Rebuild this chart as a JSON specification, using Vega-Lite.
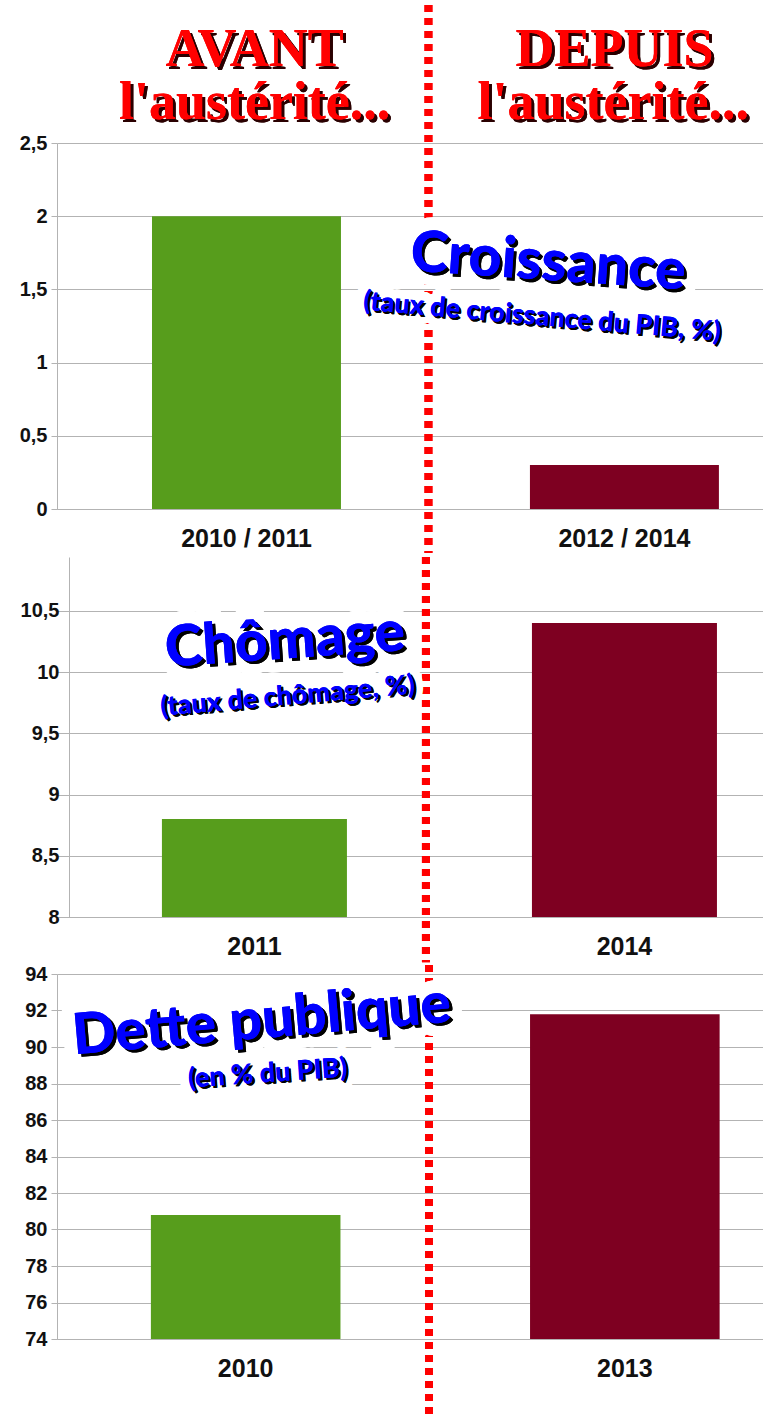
{
  "$schema": "https://vega.github.io/schema/vega-lite/v6.json",
  "padding": 0,
  "background": "white",
  "columns": 1,
  "spacing": -7,
  "config": {"view": {"stroke": null}},
  "concat": [
    {
      "width": 706,
      "height": 366,
      "data": {"values": [
        {"cat": "2010 / 2011", "v": 2, "periode": "avant"},
        {"cat": "2012 / 2014", "v": 0.3, "periode": "depuis"}
      ]},
      "layer": [
        {
          "mark": {"type": "bar"},
          "encoding": {
            "x": {"field": "cat", "type": "nominal", "sort": null,
              "scale": {"paddingInner": 0.5, "paddingOuter": 0.184, "align": 0.683},
              "axis": {"title": null, "labelAngle": 0, "ticks": false, "domainColor": "#b3b3b3", "labelFont": "Liberation Sans", "labelFontWeight": "bold", "labelFontSize": 25, "labelColor": "#111111", "labelPadding": 17}},
            "y": {"field": "v", "type": "quantitative",
              "scale": {"domain": [0, 2.5], "nice": false, "zero": false},
              "axis": {"title": null, "values": [0, 0.5, 1, 1.5, 2, 2.5], "tickCount": 6, "labelExpr": "replace(toString(datum.value), '.', ',')", "labelOverlap": false, "grid": true, "gridColor": "#b3b3b3", "domainColor": "#b3b3b3", "tickColor": "#b3b3b3", "tickSize": 6, "labelPadding": 4, "labelFont": "Liberation Sans", "labelFontWeight": "bold", "labelFontSize": 20, "labelColor": "#111111", "minExtent": 57, "maxExtent": 57}},
            "y2": {"datum": 0},
            "color": {"field": "periode", "type": "nominal", "scale": {"domain": ["avant", "depuis"], "range": ["#579d1c", "#7e0021"]}, "legend": null}
          }
        },
        {
          "mark": {"type": "rule", "color": "#ff0000", "strokeWidth": 8, "strokeDash": [7, 6]},
          "encoding": {
            "x": {"datum": "2012 / 2014", "type": "nominal", "bandPosition": -0.537},
            "y": {"datum": 3.443, "type": "quantitative"},
            "y2": {"datum": -0.3}
          }
        },
        {
          "mark": {"type": "text", "text": "AVANT", "font": "Liberation Serif", "fontWeight": "bold", "fontSize": 54, "color": "#2a0000", "dx": 3, "dy": 3, "align": "center", "baseline": "alphabetic"},
          "encoding": {"x": {"datum": "2010 / 2011", "type": "nominal", "bandPosition": 0.543}, "y": {"datum": 3.026, "type": "quantitative"}}
        },
        {
          "mark": {"type": "text", "text": "AVANT", "font": "Liberation Serif", "fontWeight": "bold", "fontSize": 54, "color": "#ff0000", "align": "center", "baseline": "alphabetic"},
          "encoding": {"x": {"datum": "2010 / 2011", "type": "nominal", "bandPosition": 0.543}, "y": {"datum": 3.026, "type": "quantitative"}}
        },
        {
          "mark": {"type": "text", "text": "l'austérité...", "font": "Liberation Serif", "fontWeight": "bold", "fontSize": 54, "color": "#2a0000", "dx": 3, "dy": 3, "align": "center", "baseline": "alphabetic"},
          "encoding": {"x": {"datum": "2010 / 2011", "type": "nominal", "bandPosition": 0.543}, "y": {"datum": 2.664, "type": "quantitative"}}
        },
        {
          "mark": {"type": "text", "text": "l'austérité...", "font": "Liberation Serif", "fontWeight": "bold", "fontSize": 54, "color": "#ff0000", "align": "center", "baseline": "alphabetic"},
          "encoding": {"x": {"datum": "2010 / 2011", "type": "nominal", "bandPosition": 0.543}, "y": {"datum": 2.664, "type": "quantitative"}}
        },
        {
          "mark": {"type": "text", "text": "DEPUIS", "font": "Liberation Serif", "fontWeight": "bold", "fontSize": 54, "color": "#2a0000", "dx": 3, "dy": 3, "align": "center", "baseline": "alphabetic"},
          "encoding": {"x": {"datum": "2012 / 2014", "type": "nominal", "bandPosition": 0.447}, "y": {"datum": 3.026, "type": "quantitative"}}
        },
        {
          "mark": {"type": "text", "text": "DEPUIS", "font": "Liberation Serif", "fontWeight": "bold", "fontSize": 54, "color": "#ff0000", "align": "center", "baseline": "alphabetic"},
          "encoding": {"x": {"datum": "2012 / 2014", "type": "nominal", "bandPosition": 0.447}, "y": {"datum": 3.026, "type": "quantitative"}}
        },
        {
          "mark": {"type": "text", "text": "l'austérité...", "font": "Liberation Serif", "fontWeight": "bold", "fontSize": 54, "color": "#2a0000", "dx": 3, "dy": 3, "align": "center", "baseline": "alphabetic"},
          "encoding": {"x": {"datum": "2012 / 2014", "type": "nominal", "bandPosition": 0.441}, "y": {"datum": 2.664, "type": "quantitative"}}
        },
        {
          "mark": {"type": "text", "text": "l'austérité...", "font": "Liberation Serif", "fontWeight": "bold", "fontSize": 54, "color": "#ff0000", "align": "center", "baseline": "alphabetic"},
          "encoding": {"x": {"datum": "2012 / 2014", "type": "nominal", "bandPosition": 0.441}, "y": {"datum": 2.664, "type": "quantitative"}}
        },
        {
          "mark": {"type": "text", "text": "Croissance", "font": "Lato", "fontWeight": 900, "fontSize": 57, "angle": 4, "align": "center", "baseline": "middle", "fill": "#ffffff", "stroke": "#ffffff", "strokeWidth": 26, "strokeJoin": "round"},
          "encoding": {"x": {"datum": "2012 / 2014", "type": "nominal", "bandPosition": 0.096}, "y": {"datum": 1.68, "type": "quantitative"}}
        },
        {
          "mark": {"type": "text", "text": "(taux de croissance du PIB, %)", "font": "Lato", "fontWeight": 900, "fontSize": 27, "angle": 5, "align": "center", "baseline": "middle", "fill": "#ffffff", "stroke": "#ffffff", "strokeWidth": 18, "strokeJoin": "round"},
          "encoding": {"x": {"datum": "2012 / 2014", "type": "nominal", "bandPosition": 0.064}, "y": {"datum": 1.31, "type": "quantitative"}}
        },
        {
          "mark": {"type": "text", "text": "Croissance", "font": "Lato", "fontWeight": 900, "fontSize": 57, "angle": 4, "align": "center", "baseline": "middle", "fill": "#000000", "dx": 3, "dy": 3},
          "encoding": {"x": {"datum": "2012 / 2014", "type": "nominal", "bandPosition": 0.096}, "y": {"datum": 1.68, "type": "quantitative"}}
        },
        {
          "mark": {"type": "text", "text": "(taux de croissance du PIB, %)", "font": "Lato", "fontWeight": 900, "fontSize": 27, "angle": 5, "align": "center", "baseline": "middle", "fill": "#000000", "dx": 2, "dy": 2},
          "encoding": {"x": {"datum": "2012 / 2014", "type": "nominal", "bandPosition": 0.064}, "y": {"datum": 1.31, "type": "quantitative"}}
        },
        {
          "mark": {"type": "text", "text": "Croissance", "font": "Lato", "fontWeight": 900, "fontSize": 57, "angle": 4, "align": "center", "baseline": "middle", "fill": "#0000ff"},
          "encoding": {"x": {"datum": "2012 / 2014", "type": "nominal", "bandPosition": 0.096}, "y": {"datum": 1.68, "type": "quantitative"}}
        },
        {
          "mark": {"type": "text", "text": "(taux de croissance du PIB, %)", "font": "Lato", "fontWeight": 900, "fontSize": 27, "angle": 5, "align": "center", "baseline": "middle", "fill": "#0000ff"},
          "encoding": {"x": {"datum": "2012 / 2014", "type": "nominal", "bandPosition": 0.064}, "y": {"datum": 1.31, "type": "quantitative"}}
        }
      ]
    },
    {
      "width": 706,
      "height": 360,
      "data": {"values": [
        {"cat": "2011", "v": 8.8, "periode": "avant"},
        {"cat": "2014", "v": 10.4, "periode": "depuis"}
      ]},
      "layer": [
        {
          "mark": {"type": "bar"},
          "encoding": {
            "x": {"field": "cat", "type": "nominal", "sort": null,
              "scale": {"paddingInner": 0.5, "paddingOuter": 0.204, "align": 0.695},
              "axis": {"title": null, "labelAngle": 0, "ticks": false, "domainColor": "#b3b3b3", "labelFont": "Liberation Sans", "labelFontWeight": "bold", "labelFontSize": 25, "labelColor": "#111111", "labelPadding": 17}},
            "y": {"field": "v", "type": "quantitative",
              "scale": {"domain": [8, 10.94], "nice": false, "zero": false},
              "axis": {"title": null, "offset": -12, "values": [8, 8.5, 9, 9.5, 10, 10.5], "tickCount": 6, "labelExpr": "replace(toString(datum.value), '.', ',')", "labelOverlap": false, "grid": true, "gridColor": "#b3b3b3", "domainColor": "#b3b3b3", "tickColor": "#b3b3b3", "tickSize": 6, "labelPadding": 4, "labelFont": "Liberation Sans", "labelFontWeight": "bold", "labelFontSize": 20, "labelColor": "#111111", "minExtent": 57, "maxExtent": 57}},
            "y2": {"datum": 8},
            "color": {"field": "periode", "type": "nominal", "scale": {"domain": ["avant", "depuis"], "range": ["#579d1c", "#7e0021"]}, "legend": null}
          }
        },
        {
          "mark": {"type": "rule", "color": "#ff0000", "strokeWidth": 8, "strokeDash": [7, 6]},
          "encoding": {
            "x": {"datum": "2014", "type": "nominal", "bandPosition": -0.573},
            "y": {"datum": 10.94, "type": "quantitative"},
            "y2": {"datum": 7.63}
          }
        },
        {
          "mark": {"type": "text", "text": "Chômage", "font": "Lato", "fontWeight": 900, "fontSize": 57, "angle": -4, "align": "center", "baseline": "middle", "fill": "#ffffff", "stroke": "#ffffff", "strokeWidth": 26, "strokeJoin": "round"},
          "encoding": {"x": {"datum": "2011", "type": "nominal", "bandPosition": 0.665}, "y": {"datum": 10.25, "type": "quantitative"}}
        },
        {
          "mark": {"type": "text", "text": "(taux de chômage, %)", "font": "Lato", "fontWeight": 900, "fontSize": 27, "angle": -5, "align": "center", "baseline": "middle", "fill": "#ffffff", "stroke": "#ffffff", "strokeWidth": 18, "strokeJoin": "round"},
          "encoding": {"x": {"datum": "2011", "type": "nominal", "bandPosition": 0.68}, "y": {"datum": 9.8, "type": "quantitative"}}
        },
        {
          "mark": {"type": "text", "text": "Chômage", "font": "Lato", "fontWeight": 900, "fontSize": 57, "angle": -4, "align": "center", "baseline": "middle", "fill": "#000000", "dx": 3, "dy": 3},
          "encoding": {"x": {"datum": "2011", "type": "nominal", "bandPosition": 0.665}, "y": {"datum": 10.25, "type": "quantitative"}}
        },
        {
          "mark": {"type": "text", "text": "(taux de chômage, %)", "font": "Lato", "fontWeight": 900, "fontSize": 27, "angle": -5, "align": "center", "baseline": "middle", "fill": "#000000", "dx": 2, "dy": 2},
          "encoding": {"x": {"datum": "2011", "type": "nominal", "bandPosition": 0.68}, "y": {"datum": 9.8, "type": "quantitative"}}
        },
        {
          "mark": {"type": "text", "text": "Chômage", "font": "Lato", "fontWeight": 900, "fontSize": 57, "angle": -4, "align": "center", "baseline": "middle", "fill": "#0000ff"},
          "encoding": {"x": {"datum": "2011", "type": "nominal", "bandPosition": 0.665}, "y": {"datum": 10.25, "type": "quantitative"}}
        },
        {
          "mark": {"type": "text", "text": "(taux de chômage, %)", "font": "Lato", "fontWeight": 900, "fontSize": 27, "angle": -5, "align": "center", "baseline": "middle", "fill": "#0000ff"},
          "encoding": {"x": {"datum": "2011", "type": "nominal", "bandPosition": 0.68}, "y": {"datum": 9.8, "type": "quantitative"}}
        }
      ]
    },
    {
      "width": 706,
      "height": 365,
      "data": {"values": [
        {"cat": "2010", "v": 80.8, "periode": "avant"},
        {"cat": "2013", "v": 91.8, "periode": "depuis"}
      ]},
      "layer": [
        {
          "mark": {"type": "bar"},
          "encoding": {
            "x": {"field": "cat", "type": "nominal", "sort": null,
              "scale": {"paddingInner": 0.5, "paddingOuter": 0.181, "align": 0.684},
              "axis": {"title": null, "labelAngle": 0, "ticks": false, "domainColor": "#b3b3b3", "labelFont": "Liberation Sans", "labelFontWeight": "bold", "labelFontSize": 25, "labelColor": "#111111", "labelPadding": 17}},
            "y": {"field": "v", "type": "quantitative",
              "scale": {"domain": [74, 94], "nice": false, "zero": false},
              "axis": {"title": null, "values": [74, 76, 78, 80, 82, 84, 86, 88, 90, 92, 94], "tickCount": 11, "labelOverlap": false, "grid": true, "gridColor": "#b3b3b3", "domainColor": "#b3b3b3", "tickColor": "#b3b3b3", "tickSize": 6, "labelPadding": 4, "labelFont": "Liberation Sans", "labelFontWeight": "bold", "labelFontSize": 20, "labelColor": "#111111", "minExtent": 57, "maxExtent": 57}},
            "y2": {"datum": 74},
            "color": {"field": "periode", "type": "nominal", "scale": {"domain": ["avant", "depuis"], "range": ["#579d1c", "#7e0021"]}, "legend": null}
          }
        },
        {
          "mark": {"type": "rule", "color": "#ff0000", "strokeWidth": 8, "strokeDash": [7, 6]},
          "encoding": {
            "x": {"datum": "2013", "type": "nominal", "bandPosition": -0.533},
            "y": {"datum": 94.5, "type": "quantitative"},
            "y2": {"datum": 69.7}
          }
        },
        {
          "mark": {"type": "text", "text": "Dette publique", "font": "Lato", "fontWeight": 900, "fontSize": 57, "angle": -5, "align": "center", "baseline": "middle", "fill": "#ffffff", "stroke": "#ffffff", "strokeWidth": 26, "strokeJoin": "round"},
          "encoding": {"x": {"datum": "2010", "type": "nominal", "bandPosition": 0.584}, "y": {"datum": 91.42, "type": "quantitative"}}
        },
        {
          "mark": {"type": "text", "text": "(en % du PIB)", "font": "Lato", "fontWeight": 900, "fontSize": 27, "angle": -4, "align": "center", "baseline": "middle", "fill": "#ffffff", "stroke": "#ffffff", "strokeWidth": 18, "strokeJoin": "round"},
          "encoding": {"x": {"datum": "2010", "type": "nominal", "bandPosition": 0.616}, "y": {"datum": 88.52, "type": "quantitative"}}
        },
        {
          "mark": {"type": "text", "text": "Dette publique", "font": "Lato", "fontWeight": 900, "fontSize": 57, "angle": -5, "align": "center", "baseline": "middle", "fill": "#000000", "dx": 3, "dy": 3},
          "encoding": {"x": {"datum": "2010", "type": "nominal", "bandPosition": 0.584}, "y": {"datum": 91.42, "type": "quantitative"}}
        },
        {
          "mark": {"type": "text", "text": "(en % du PIB)", "font": "Lato", "fontWeight": 900, "fontSize": 27, "angle": -4, "align": "center", "baseline": "middle", "fill": "#000000", "dx": 2, "dy": 2},
          "encoding": {"x": {"datum": "2010", "type": "nominal", "bandPosition": 0.616}, "y": {"datum": 88.52, "type": "quantitative"}}
        },
        {
          "mark": {"type": "text", "text": "Dette publique", "font": "Lato", "fontWeight": 900, "fontSize": 57, "angle": -5, "align": "center", "baseline": "middle", "fill": "#0000ff"},
          "encoding": {"x": {"datum": "2010", "type": "nominal", "bandPosition": 0.584}, "y": {"datum": 91.42, "type": "quantitative"}}
        },
        {
          "mark": {"type": "text", "text": "(en % du PIB)", "font": "Lato", "fontWeight": 900, "fontSize": 27, "angle": -4, "align": "center", "baseline": "middle", "fill": "#0000ff"},
          "encoding": {"x": {"datum": "2010", "type": "nominal", "bandPosition": 0.616}, "y": {"datum": 88.52, "type": "quantitative"}}
        }
      ]
    }
  ]
}
